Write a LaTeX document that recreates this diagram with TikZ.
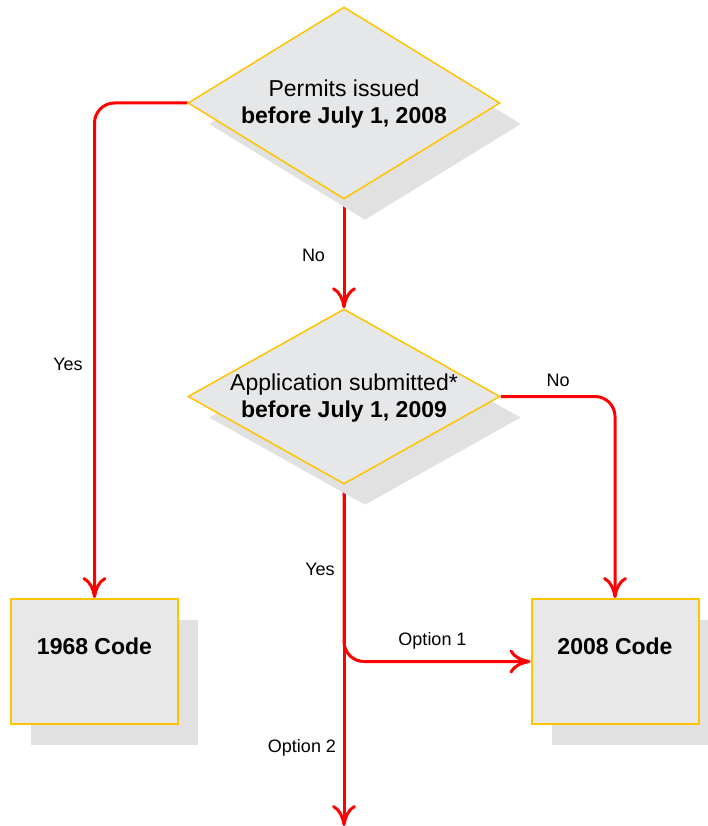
\documentclass[tikz,border=0pt]{standalone}
\usepackage{fontspec}
\setmainfont{Liberation Sans}
\usetikzlibrary{shapes.geometric,arrows.meta,shadows,backgrounds}
\definecolor{flowred}{RGB}{255,0,0}
\definecolor{edgegold}{RGB}{255,196,0}
\definecolor{boxfill}{RGB}{232,232,232}
\definecolor{decfill}{RGB}{230,231,233}
\definecolor{shadowgray}{RGB}{225,225,225}
% two-line text of a decision, smashed so the diamond keeps its size
\newcommand{\dtext}[2]{\smash{\raisebox{6.5pt}{\makebox[0pt]{\begin{tabular}[t]{@{}c@{}}#1\\\bfseries #2\end{tabular}}}}}
\newcommand{\btext}[1]{\smash{\raisebox{7.5pt}{\bfseries #1}}}
\tikzset{
  decision/.style={diamond, draw=edgegold, line width=1.5pt, fill=decfill, inner sep=0pt,
    minimum width=312pt, font=\fontsize{23}{27}\selectfont,
    drop shadow={shadow xshift=21pt, shadow yshift=-21pt, fill=shadowgray, opacity=1}},
  codebox/.style={rectangle, draw=edgegold, line width=2pt, fill=boxfill, inner sep=0pt,
    minimum width=167pt, minimum height=125pt, font=\fontsize{23}{27}\selectfont,
    drop shadow={shadow xshift=20pt, shadow yshift=-21pt, fill=shadowgray, opacity=1}},
  flow/.style={draw=flowred, line width=3pt, rounded corners=20pt,
    -{Computer Modern Rightarrow[length=21pt,width=24pt]}},
  lbl/.style={font=\fontsize{18}{21}\selectfont, anchor=base, inner sep=0pt}
}
\begin{document}
\begin{tikzpicture}[x=1pt,y=-1pt]
  \useasboundingbox (0,0) rectangle (707,826);
  % decisions
  \node[decision, minimum height=192pt] (permits) at (344,103) {\dtext{Permits issued}{before July 1, 2008}};
  \node[decision, minimum height=175pt] (applic) at (344,396.5) {\dtext{Application submitted*}{before July 1, 2009}};
  % outcomes
  \node[codebox] (code68) at (94.5,661.5) {\btext{1968 Code}};
  \node[codebox] (code08) at (615,661.5) {\btext{2008 Code}};
  \coordinate (exit) at (344,826);
  % connectors, kept under the shadows
  \begin{pgfonlayer}{background}
    \draw[flow] (permits.west) -| (code68.north);
    \draw[flow] (permits.south) -- (applic.north);
    \draw[flow] (applic.east) -| (code08.north);
    \draw[flow] (applic.south) -- (exit);
    \draw[flow] (applic.south) |- (code08.west);
  \end{pgfonlayer}
  % labels
  \node[lbl] (yes68) at (68,370) {Yes};
  \node[lbl] (no1) at (313.5,261) {No};
  \node[lbl] (no2) at (558,386) {No};
  \node[lbl] (yes2) at (320,575) {Yes};
  \node[lbl] (opt1) at (432.5,645) {Option 1};
  \node[lbl] (opt2) at (302,752) {Option 2};
\end{tikzpicture}
\end{document}
